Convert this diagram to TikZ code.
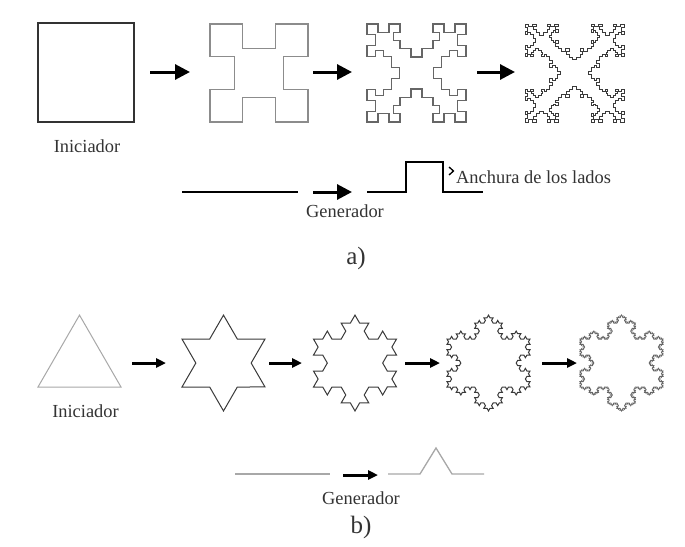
\documentclass[tikz,border=0pt]{standalone}
\usepackage{fontspec}
\setmainfont{Liberation Serif}
\usetikzlibrary{decorations,arrows.meta}
\newdimen\kochlen
\pgfdeclaredecoration{quadkoch}{draw}{
  \state{draw}[width=\pgfdecoratedinputsegmentremainingdistance]{
    \pgfmathsetlength{\kochlen}{\pgfdecoratedinputsegmentremainingdistance}
    \pgfpathlineto{\pgfqpoint{0.33333\kochlen}{0pt}}
    \pgfpathlineto{\pgfqpoint{0.33333\kochlen}{0.25\kochlen}}
    \pgfpathlineto{\pgfqpoint{0.66667\kochlen}{0.25\kochlen}}
    \pgfpathlineto{\pgfqpoint{0.66667\kochlen}{0pt}}
    \pgfpathlineto{\pgfqpoint{\kochlen}{0pt}}
  }
}
\pgfdeclaredecoration{triakoch}{draw}{
  \state{draw}[width=\pgfdecoratedinputsegmentremainingdistance]{
    \pgfmathsetlength{\kochlen}{\pgfdecoratedinputsegmentremainingdistance}
    \pgfpathlineto{\pgfqpoint{0.33333\kochlen}{0pt}}
    \pgfpathlineto{\pgfqpoint{0.5\kochlen}{0.288675\kochlen}}
    \pgfpathlineto{\pgfqpoint{0.66667\kochlen}{0pt}}
    \pgfpathlineto{\pgfqpoint{\kochlen}{0pt}}
  }
}
\definecolor{ink}{HTML}{333333}
\definecolor{dark}{HTML}{3A3A3A}
\definecolor{mid}{HTML}{666666}
\definecolor{light}{HTML}{8C8C8C}
\definecolor{pale}{HTML}{A8A8A8}
\begin{document}
\begin{tikzpicture}[x=1pt,y=-1pt,
  fig/.style={line width=1.1pt, line join=miter},
  bigarrow/.style={line width=3pt, -{Triangle[length=15pt,width=15pt]}},
  smallarrow/.style={line width=3pt, -{Triangle[length=10pt,width=9pt]}},
  genline/.style={line width=2.6pt, line join=miter},
  genlineb/.style={line width=1.3pt, draw=pale, line join=miter},
  lbl/.style={font=\fontsize{18.4}{22}\selectfont, text=ink, inner sep=0pt},
  biglbl/.style={font=\fontsize{25}{30}\selectfont, text=ink, inner sep=0pt}]
\useasboundingbox[fill=white] (0,0) rectangle (685,546);

% ---------- a) quadratic Koch ----------
\draw[fig, draw=ink] (38,122) -- (134,122) -- (134,23) -- (38,23) -- cycle;
\draw[fig, draw=light, decoration=quadkoch]
  decorate{(210,122) -- (308,122) -- (308,24) -- (210,24) -- (210,122)} -- cycle;
\draw[fig, draw=mid, decoration=quadkoch]
  decorate{decorate{(367,122) -- (466,122) -- (466,24) -- (367,24) -- (367,122)}} -- cycle;
\draw[fig, line width=0.9pt, draw=dark, decoration=quadkoch]
  decorate{decorate{decorate{(525,122) -- (624,122) -- (624,24) -- (525,24) -- (525,122)}}} -- cycle;

\coordinate (a1s) at (150,72); \coordinate (a1e) at (190,72);
\coordinate (a2s) at (313,72); \coordinate (a2e) at (352,72);
\coordinate (a3s) at (477,72); \coordinate (a3e) at (515,72);
\draw[bigarrow] (a1s) -- (a1e);
\draw[bigarrow] (a2s) -- (a2e);
\draw[bigarrow] (a3s) -- (a3e);

\node[lbl, anchor=base] (inia) at (87,152) {Iniciador};

% generator a
\coordinate (ga1) at (182,192); \coordinate (ga2) at (298,192);
\draw[genline] (ga1) -- (ga2);
\coordinate (gaas) at (313,192); \coordinate (gaae) at (352,192);
\draw[bigarrow] (gaas) -- (gaae);
\coordinate (gb0) at (367,192); \coordinate (gb1) at (406,192);
\coordinate (gb2) at (406,162); \coordinate (gb3) at (443,162);
\coordinate (gb4) at (443,192); \coordinate (gb5) at (483,192);
\draw[genline] (gb0) -- (gb1) -- (gb2) -- (gb3) -- (gb4) -- (gb5);
\coordinate (ch1) at (449,167); \coordinate (ch2) at (453.5,171); \coordinate (ch3) at (449,175);
\draw[line width=1.3pt] (ch1) -- (ch2) -- (ch3);
\node[lbl, anchor=base west] (anch) at (456,183) {Anchura de los lados};
\node[lbl, anchor=base] (gena) at (345,217) {Generador};
\node[biglbl, anchor=base] (la) at (356,264) {a)};

% ---------- b) Koch snowflake ----------
\draw[fig, line width=1pt, draw=pale] (38,387) -- (79.5,315.1) -- (121,387) -- cycle;
\draw[fig, line width=1pt, draw=dark, decoration=triakoch]
  decorate{(182,387) -- (223.5,315.1) -- (265,387) -- (182,387)} -- cycle;
\draw[fig, line width=1pt, draw=dark, decoration=triakoch]
  decorate{decorate{(313.5,387) -- (355,315.1) -- (396.5,387) -- (313.5,387)}} -- cycle;
\draw[fig, line width=1pt, draw=dark, decoration=triakoch]
  decorate{decorate{decorate{(447,387) -- (488.5,315.1) -- (530,387) -- (447,387)}}} -- cycle;
\draw[fig, line width=0.9pt, draw=mid, decoration=triakoch]
  decorate{decorate{decorate{decorate{(580,387) -- (621.5,315.1) -- (663,387) -- (580,387)}}}} -- cycle;

\coordinate (b1s) at (132,363); \coordinate (b1e) at (166,363);
\coordinate (b2s) at (269,363); \coordinate (b2e) at (302,363);
\coordinate (b3s) at (405,363); \coordinate (b3e) at (440,363);
\coordinate (b4s) at (542,363); \coordinate (b4e) at (577,363);
\draw[smallarrow] (b1s) -- (b1e);
\draw[smallarrow] (b2s) -- (b2e);
\draw[smallarrow] (b3s) -- (b3e);
\draw[smallarrow] (b4s) -- (b4e);

\node[lbl, anchor=base] (inib) at (85.5,417) {Iniciador};

% generator b
\coordinate (gc1) at (235,474); \coordinate (gc2) at (330,474);
\draw[genlineb] (gc1) -- (gc2);
\coordinate (gcas) at (343,475); \coordinate (gcae) at (378,475);
\draw[smallarrow] (gcas) -- (gcae);
\coordinate (gd0) at (388,474); \coordinate (gd1) at (420,474);
\coordinate (gd2) at (436,448); \coordinate (gd3) at (452,474);
\coordinate (gd4) at (484,474);
\draw[genlineb] (gd0) -- (gd1) -- (gd2) -- (gd3) -- (gd4);
\node[lbl, anchor=base] (genb) at (361,504) {Generador};
\node[biglbl, anchor=base] (lb) at (361,533) {b)};
\end{tikzpicture}
\end{document}
